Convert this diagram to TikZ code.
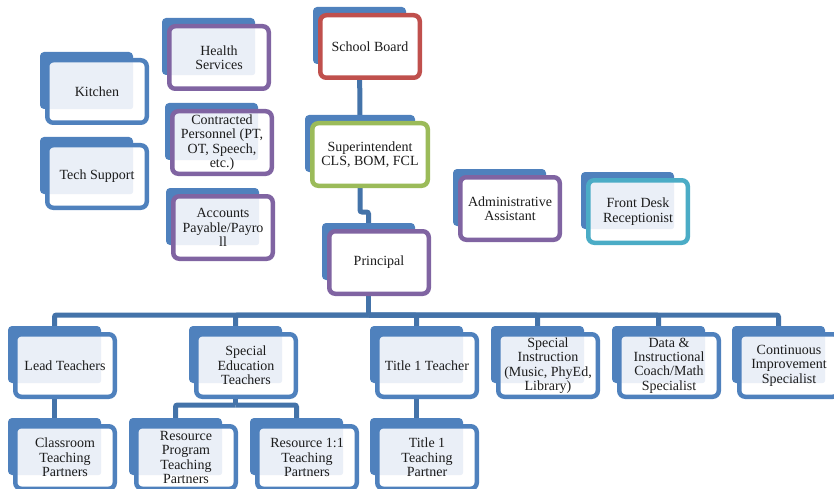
\documentclass[tikz,border=0pt]{standalone}
\usepackage{fontspec}
\setmainfont{Liberation Serif}
\usepackage{xcolor}
\usepackage{tikz}
\usetikzlibrary{backgrounds,calc}
\definecolor{tabblue}{HTML}{4F81BD}
\definecolor{lineblue}{HTML}{4473A9}
\definecolor{litblue}{HTML}{EAEFF7}
\definecolor{boxblue}{HTML}{4F81BD}
\definecolor{boxpurple}{HTML}{8064A2}
\definecolor{boxred}{HTML}{C0504D}
\definecolor{boxgreen}{HTML}{9BBB59}
\definecolor{boxaqua}{HTML}{4BACC6}
\definecolor{inktext}{HTML}{1C1C1C}
\tikzset{
  backtab/.style={fill=tabblue, rounded corners=4pt, minimum width=93pt, minimum height=57pt, inner sep=0pt},
  orgbox/.style={draw=#1, fill=white, line width=4.5pt, rounded corners=6pt, minimum width=99.5pt, minimum height=62.5pt, inner sep=0pt, align=center, text=inktext, font=\fontsize{14}{14.4}\selectfont},
  lit/.style={path picture={\fill[litblue, rounded corners=3pt] (path picture bounding box.north west) rectangle (#1.south east);}},
  orgline/.style={draw=lineblue, line width=5pt, rounded corners=2pt}
}

\begin{document}
\begin{tikzpicture}[x=1pt,y=-1pt]
\path[use as bounding box, clip] (0,0) rectangle (834,489);
% support staff
\node[backtab] (kitchen-tab) at (86.5,80.5) {};
\node[orgbox=boxblue, lit=kitchen-tab] (kitchen) at (97,91.5) {Kitchen};
\node[backtab] (tech-tab) at (86.5,165.5) {};
\node[orgbox=boxblue, lit=tech-tab] (tech) at (97,176.5) {Tech Support};
\node[backtab] (health-tab) at (208.5,46.5) {};
\node[orgbox=boxpurple, lit=health-tab] (health) at (219,57.5) {Health\\Services};
\node[backtab] (contracted-tab) at (211.5,131.5) {};
\node[orgbox=boxpurple, lit=contracted-tab] (contracted) at (222,142.5) {Contracted\\Personnel (PT,\\OT, Speech,\\etc.)};
\node[backtab] (accounts-tab) at (212.5,216.5) {};
\node[orgbox=boxpurple, lit=accounts-tab] (accounts) at (223,227.5) {Accounts\\Payable/Payro\\ll};
% chain of command
\node[backtab] (board-tab) at (359.5,35.5) {};
\node[orgbox=boxred] (board) at (370,46.5) {School Board};
\node[backtab, minimum width=110pt] (super-tab) at (360,143.5) {};
\node[orgbox=boxgreen, minimum width=115.5pt] (super) at (370,154.5) {Superintendent\\CLS, BOM, FCL};
\node[backtab] (principal-tab) at (368.5,251.5) {};
\node[orgbox=boxpurple] (principal) at (379,262.5) {Principal};
\node[backtab] (admin-tab) at (499.5,197.5) {};
\node[orgbox=boxpurple] (admin) at (510,208.5) {Administrative\\Assistant};
\node[backtab] (desk-tab) at (627.5,200.5) {};
\node[orgbox=boxaqua, lit=desk-tab] (desk) at (638,211.5) {Front Desk\\Receptionist};
% staff under the principal
\node[backtab] (lead-tab) at (54.5,354.5) {};
\node[orgbox=boxblue, lit=lead-tab] (lead) at (65,365.5) {Lead Teachers};
\node[backtab] (sped-tab) at (235.5,354.5) {};
\node[orgbox=boxblue, lit=sped-tab] (sped) at (246,365.5) {Special\\Education\\Teachers};
\node[backtab] (title-tab) at (416.5,354.5) {};
\node[orgbox=boxblue, lit=title-tab] (title) at (427,365.5) {Title 1 Teacher};
\node[backtab] (instr-tab) at (537.5,354.5) {};
\node[orgbox=boxblue, lit=instr-tab] (instr) at (548,365.5) {Special\\Instruction\\(Music, PhyEd,\\Library)};
\node[backtab] (data-tab) at (658.5,354.5) {};
\node[orgbox=boxblue, lit=data-tab] (data) at (669,365.5) {Data \&\\Instructional\\Coach/Math\\Specialist};
\node[backtab] (improve-tab) at (778.5,354.5) {};
\node[orgbox=boxblue, lit=improve-tab] (improve) at (789,365.5) {Continuous\\Improvement\\Specialist};
% partners
\node[backtab] (classroom-tab) at (54.5,446.5) {};
\node[orgbox=boxblue, lit=classroom-tab] (classroom) at (65,457.5) {Classroom\\Teaching\\Partners};
\node[backtab] (resprog-tab) at (175.5,446.5) {};
\node[orgbox=boxblue, lit=resprog-tab] (resprog) at (186,457.5) {Resource\\Program\\Teaching\\Partners};
\node[backtab] (resone-tab) at (296.5,446.5) {};
\node[orgbox=boxblue, lit=resone-tab] (resone) at (307,457.5) {Resource 1:1\\Teaching\\Partners};
\node[backtab] (titlepart-tab) at (416.5,446.5) {};
\node[orgbox=boxblue, lit=titlepart-tab] (titlepart) at (427,457.5) {Title 1\\Teaching\\Partner};
% connectors
\begin{scope}[on background layer]
\draw[orgline] (board-tab.center) -- (super-tab.center);
\draw[orgline] (super-tab.center) -- (super-tab.center |- 0,212) -| (principal-tab.center);
\coordinate (bus) at (principal-tab.center |- 0,315);
\draw[orgline] (principal-tab.center) -- (bus);
\foreach \kid in {lead,sped,title,instr,data,improve} {
  \draw[orgline] (bus) -| (\kid-tab.center);
}
\draw[orgline] (lead-tab.center) -- (classroom-tab.center);
\draw[orgline] (title-tab.center) -- (titlepart-tab.center);
\coordinate (subbus) at (sped-tab.center |- 0,405);
\draw[orgline] (sped-tab.center) -- (subbus);
\foreach \kid in {resprog,resone} {
  \draw[orgline] (subbus) -| (\kid-tab.center);
}
\end{scope}
\end{tikzpicture}
\end{document}
